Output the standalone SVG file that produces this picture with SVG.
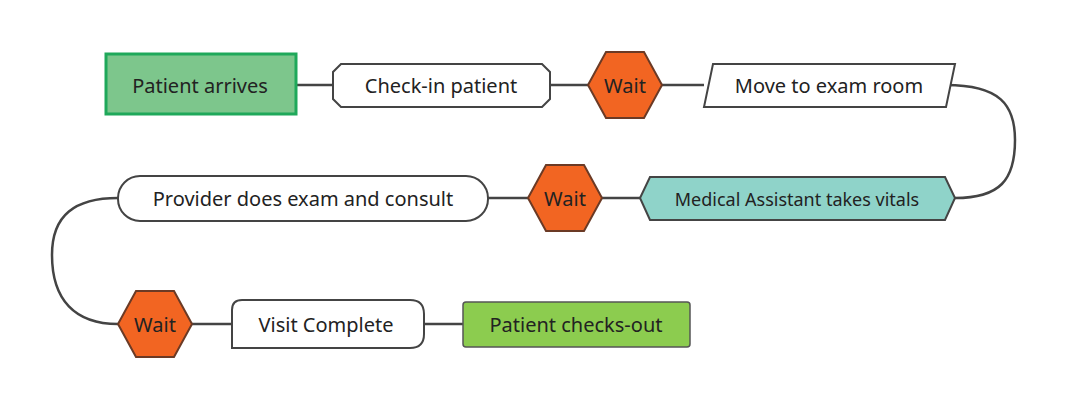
<svg xmlns="http://www.w3.org/2000/svg" width="1067" height="409" viewBox="0 0 1067 409">
<style>
.n{stroke:#444;stroke-width:2}
.w{fill:#fff}
.h{fill:#f26522;stroke:#6b3a25;stroke-width:2}
.c{fill:none;stroke:#444;stroke-width:2.5}
text{font-family:"Noto Sans","Open Sans",sans-serif;font-size:20px;fill:#222;text-anchor:middle;dominant-baseline:central}
</style>
<rect width="1067" height="409" fill="#fff"/>
<g id="connectors">
<path class="c" d="M296 85H333M550 85H588M662 85H704"/>
<path class="c" d="M946 85C1000 85 1015 105 1015 140C1015 180 1000 198 955 198"/>
<path class="c" d="M640 198H602M528 198H488"/>
<path class="c" d="M118 198C75 198 52 215 52 255C52 300 75 324 118 324"/>
<path class="c" d="M192 324H232M424 324H463"/>
</g>
<g id="n1"><rect x="106" y="54" width="190" height="60" fill="#7dc68c" stroke="#1fa85a" stroke-width="3"/><text x="200" y="85">Patient arrives</text></g>
<g id="n2"><path class="n w" d="M341 64H542L550 72V99L542 107H341L333 99V72Z"/><text x="441" y="85">Check-in patient</text></g>
<g id="n3"><path class="h" d="M606 52H644L662 85L644 118H606L588 85Z"/><text x="625" y="85">Wait</text></g>
<g id="n4"><path class="n w" d="M713 64H955L946 107H704Z"/><text x="829" y="85">Move to exam room</text></g>
<g id="n5"><path class="n" fill="#8fd3c9" d="M650 177H945L955 198L945 220H650L640 198Z"/><text x="797" y="199" style="font-size:18px">Medical Assistant takes vitals</text></g>
<g id="n6"><path class="h" d="M546 165H584L602 198L584 231H546L528 198Z"/><text x="565" y="198">Wait</text></g>
<g id="n7"><rect class="n w" x="118" y="176" width="370" height="45" rx="22"/><text x="303" y="198">Provider does exam and consult</text></g>
<g id="n8"><path class="h" d="M136 291H174L192 324L174 357H136L118 324Z"/><text x="155" y="324">Wait</text></g>
<g id="n9"><path class="n w" d="M232 310Q232 300 242 300H410Q424 300 424 314V334Q424 348 410 348H232Z"/><text x="326" y="324">Visit Complete</text></g>
<g id="n10"><rect x="463" y="302" width="227" height="45" rx="3" fill="#8ccc4f" stroke="#555" stroke-width="1.5"/><text x="576" y="324">Patient checks-out</text></g>
</svg>
